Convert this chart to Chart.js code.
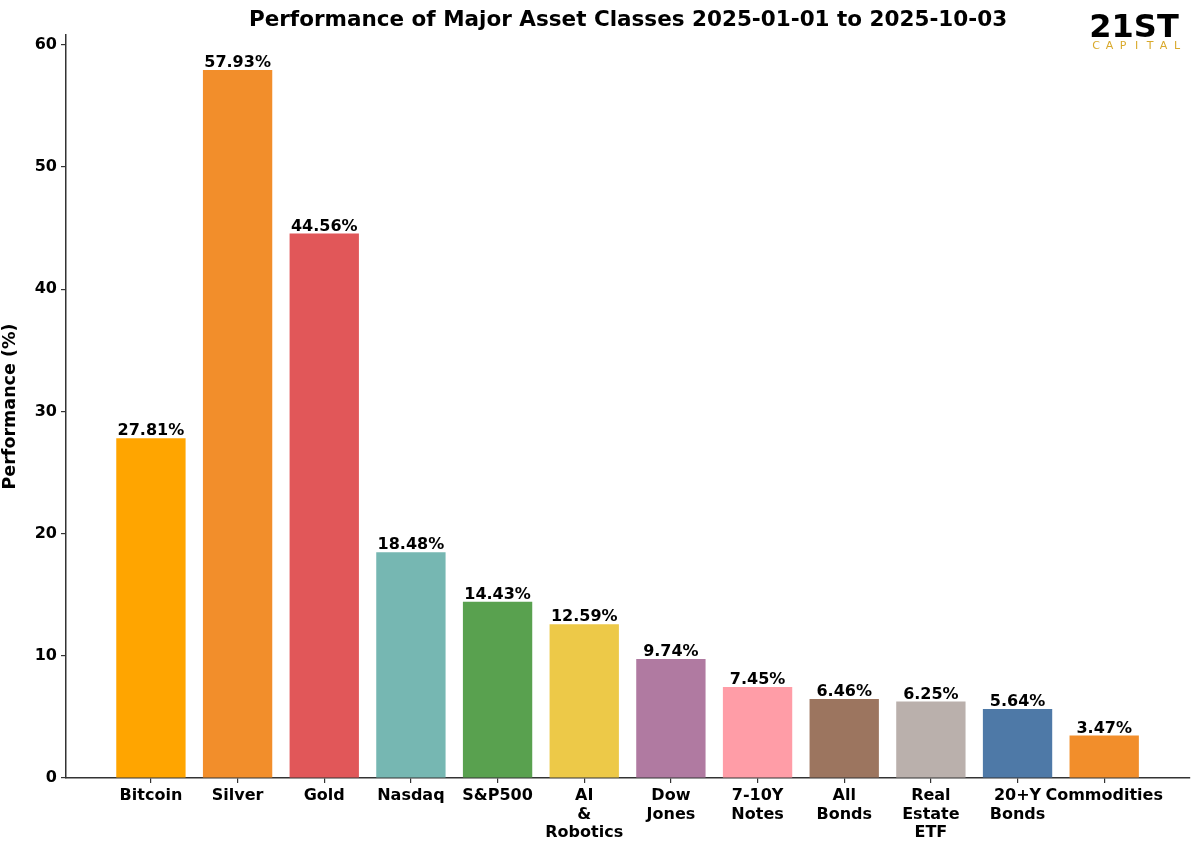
<!DOCTYPE html>
<html>
<head>
<meta charset="utf-8">
<script src="https://cdn.jsdelivr.net/npm/chart.js@4.4.1/dist/chart.umd.min.js"></script>
<style>
  html, body { margin: 0; padding: 0; background: #fff; }
  #wrap { width: 1200px; height: 850px; }
</style>
</head>
<body>
<div id="wrap"><canvas id="perf"></canvas></div>
<script>
  // data
  const assets = [['Bitcoin'], ['Silver'], ['Gold'], ['Nasdaq'], ['S&P500'], ['AI', '&', 'Robotics'], ['Dow', 'Jones'], ['7-10Y', 'Notes'], ['All', 'Bonds'], ['Real', 'Estate', 'ETF'], ['20+Y', 'Bonds'], ['Commodities']]
  const performance = [27.81, 57.93, 44.56, 18.48, 14.43, 12.59, 9.74, 7.45, 6.46, 6.25, 5.64, 3.47]
  const barColors = ['#FFA500', '#F28E2B', '#E15759', '#76B7B2', '#59A14F', '#EDC948', '#B07AA1', '#FF9DA7', '#9C755F', '#BAB0AC', '#4E79A7', '#F28E2B']
  const yTicks = [0, 10, 20, 30, 40, 50, 60]

  const FONT = "'DejaVu Sans', sans-serif"
  Chart.defaults.font.family = FONT
  Chart.defaults.color = '#000'

  // value labels + title + logo
  const extras = {
    id: 'extras',
    afterDatasetsDraw(chart) {
      const ctx = chart.ctx
      const meta = chart.getDatasetMeta(0)
      ctx.save()
      ctx.font = 'bold 16px ' + FONT
      ctx.fillStyle = '#000'
      ctx.textAlign = 'center'
      ctx.textBaseline = 'bottom'
      meta.data.forEach((bar, i) => {
        ctx.fillText(performance[i].toFixed(2) + '%', bar.x, bar.y + 1)
      })
      ctx.restore()
    },
    afterDraw(chart) {
      const ctx = chart.ctx
      const a = chart.chartArea
      ctx.save()
      ctx.fillStyle = '#000'
      ctx.textAlign = 'center'
      ctx.textBaseline = 'alphabetic'
      ctx.font = 'bold 21.5px ' + FONT
      ctx.fillText('Performance of Major Asset Classes 2025-01-01 to 2025-10-03', (a.left + a.right) / 2, 26)

      // 21ST CAPITAL logo
      ctx.font = 'bold 32px ' + FONT
      ctx.fillText('21ST', 1134, 37)
      ctx.fillStyle = '#D9A92B'
      ctx.font = '11px ' + FONT
      const cap = 'CAPITAL'
      for (let i = 0; i < cap.length; i++) {
        ctx.fillText(cap[i], 1096 + i * 13.5, 49)
      }
      ctx.restore()
    }
  }

  const perf = document.getElementById('perf')

  new Chart(perf, {
    type: 'bar',
    data: {
      datasets: [{
        data: performance.map((v, i) => ({ x: i, y: v })),
        backgroundColor: barColors,
        borderWidth: 0,
        categoryPercentage: 0.8,
        barPercentage: 1
      }]
    },
    options: {
      responsive: true,
      maintainAspectRatio: false,
      animation: false,
      devicePixelRatio: 1,
      layout: { padding: { top: 35, right: 10, left: 0, bottom: 0 } },
      plugins: {
        legend: { display: false },
        tooltip: { enabled: false }
      },
      scales: {
        x: {
          type: 'linear',
          offset: false,
          min: -0.98,
          max: 11.99,
          afterBuildTicks(scale) {
            scale.ticks = assets.map((_, i) => ({ value: i }))
          },
          afterFit(scale) { scale.height = 72 },
          ticks: {
            autoSkip: false,
            maxRotation: 0,
            padding: 4,
            font: { size: 16, weight: 'bold', lineHeight: 1.15 },
            callback: (v) => assets[v]
          },
          grid: { offset: false, drawOnChartArea: false, drawTicks: true, tickLength: 5, color: '#333', lineWidth: 1.2 },
          border: { display: true, color: '#333', width: 1.5 }
        },
        y: {
          min: 0,
          max: 60.8,
          afterBuildTicks(scale) {
            scale.ticks = yTicks.map(v => ({ value: v }))
          },
          afterFit(scale) { scale.width = 66 },
          ticks: {
            padding: 4,
            font: { size: 16, weight: 'bold' }
          },
          grid: { drawOnChartArea: false, drawTicks: true, tickLength: 5, color: '#333', lineWidth: 1.2 },
          border: { display: true, color: '#333', width: 1.5 },
          title: {
            display: true,
            text: 'Performance (%)',
            font: { size: 17.5, weight: 'bold' },
            padding: { top: 0, bottom: 2 }
          }
        }
      }
    },
    plugins: [extras]
  });
</script>
</body>
</html>
